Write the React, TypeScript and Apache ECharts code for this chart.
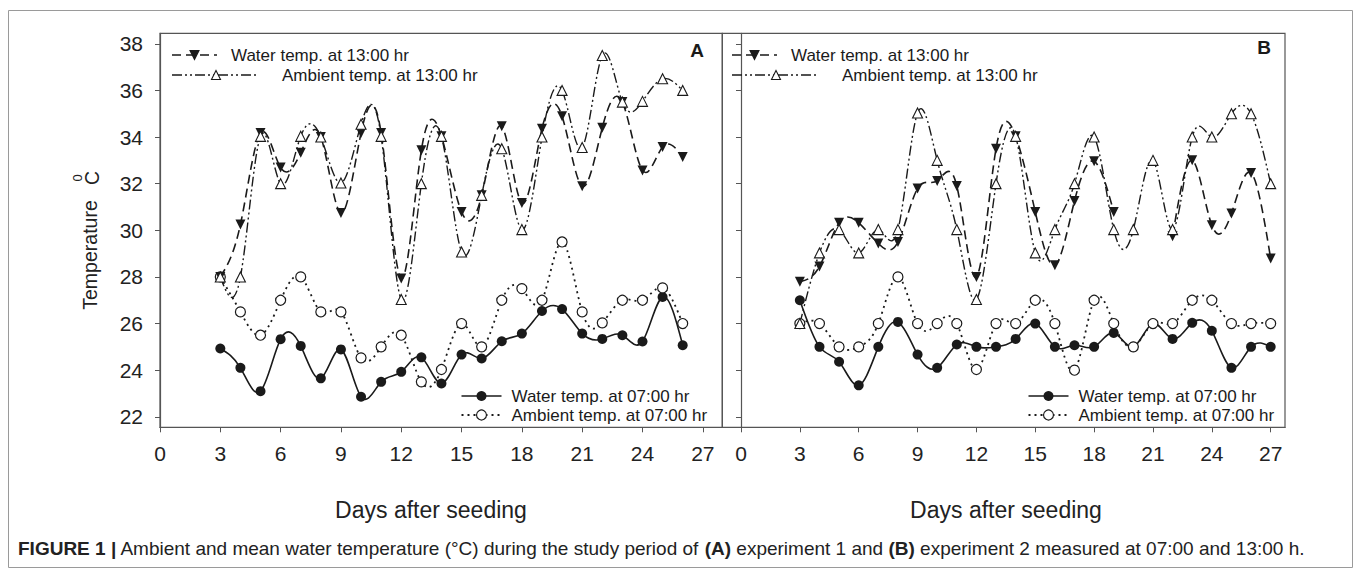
import React, { useEffect, useRef } from "react";
import * as echarts from "echarts";

// ---------- DATA ----------
const yTicks = [22, 24, 26, 28, 30, 32, 34, 36, 38];
const xTicks = [0, 3, 6, 9, 12, 15, 18, 21, 24, 27];

// Panel A (experiment 1): days 3..26
const daysA = [3, 4, 5, 6, 7, 8, 9, 10, 11, 12, 13, 14, 15, 16, 17, 18, 19, 20, 21, 22, 23, 24, 25, 26];
const waterAm_A = [24.93, 24.1, 23.1, 25.33, 25.04, 23.65, 24.89, 22.86, 23.5, 23.93, 24.55, 23.43, 24.67, 24.5, 25.24, 25.57, 26.54, 26.62, 25.57, 25.34, 25.5, 25.23, 27.14, 25.07];
const ambAm_A = [28.0, 26.5, 25.5, 27.0, 28.0, 26.5, 26.5, 24.53, 25.0, 25.5, 23.5, 24.03, 26.0, 25.0, 27.0, 27.5, 27.0, 29.5, 26.5, 26.03, 27.0, 27.0, 27.53, 26.0];
const waterPm_A = [28.0, 30.25, 34.17, 32.69, 33.33, 34.0, 30.74, 34.17, 34.17, 27.93, 33.43, 34.03, 30.79, 31.5, 34.46, 31.17, 34.36, 34.89, 31.89, 34.4, 35.5, 32.57, 33.57, 33.14];
const ambPm_A = [28.0, 28.0, 34.03, 32.0, 34.03, 34.0, 32.03, 34.55, 34.03, 27.03, 32.0, 34.03, 29.07, 31.5, 33.5, 30.03, 34.0, 36.0, 33.55, 37.5, 35.5, 35.53, 36.5, 36.0];

// Panel B (experiment 2): days 3..27 (null = not recorded)
const daysB = [3, 4, 5, 6, 7, 8, 9, 10, 11, 12, 13, 14, 15, 16, 17, 18, 19, 20, 21, 22, 23, 24, 25, 26, 27];
const waterAm_B = [27.0, 25.0, 24.36, 23.35, 25.0, 26.07, 24.67, 24.1, 25.1, 25.0, 25.0, 25.34, 26.0, 25.0, 25.07, 25.0, 25.6, 25.0, 26.0, 25.34, 26.03, 25.69, 24.1, 25.0, 25.0];
const ambAm_B = [26.0, 26.0, 25.0, 25.0, 26.0, 28.0, 26.0, 26.0, 26.0, 24.03, 26.0, 26.0, 27.0, 26.0, 24.0, 27.0, 26.0, 25.0, 26.0, 26.0, 27.0, 27.0, 26.0, 26.0, 26.0];
const waterPm_B = [27.79, 28.45, 30.32, 30.32, 29.43, 29.5, 31.79, 32.12, 31.9, 28.0, 33.5, 34.03, 30.79, 28.5, 31.26, 32.96, 30.79, null, null, 29.75, 33.0, 30.22, 30.72, 32.46, 28.79];
const ambPm_B = [26.0, 29.03, 30.03, 29.03, 30.03, 30.03, 35.03, 33.0, 30.03, 27.03, 32.0, 34.03, 29.03, 30.03, 32.0, 34.0, 30.03, 30.03, 33.0, 30.03, 34.0, 34.0, 35.0, 35.0, 32.0];

const legendPm = ["Water temp. at 13:00 hr", "Ambient temp. at 13:00 hr"];
const legendAm = ["Water temp. at 07:00 hr", "Ambient temp. at 07:00 hr"];

// ---------- STYLE ----------
const INK = "#1a1a1a";
const AXIS = "#555";
const FONT = "Arial, 'Liberation Sans', Helvetica, sans-serif";
const DASH_WATER = [9, 5];
const DASH_AMB = [10, 3, 2, 3, 2, 3];
const DOT = [2, 4];

type Pt = [number, number];

// natural cubic spline through runs of points -> bezier segments (data space)
function splineRuns(xs: number[], ys: (number | null)[]): Pt[][][] {
  const runs: Pt[][] = [];
  let cur: Pt[] = [];
  xs.forEach((x, i) => {
    const y = ys[i];
    if (y == null) {
      if (cur.length) runs.push(cur);
      cur = [];
    } else cur.push([x, y]);
  });
  if (cur.length) runs.push(cur);
  return runs.map((run) => {
    const n = run.length;
    if (n < 2) return [];
    const X = run.map((p) => p[0]);
    const Y = run.map((p) => p[1]);
    const h: number[] = [];
    for (let i = 0; i < n - 1; i++) h.push(X[i + 1] - X[i]);
    const M = new Array(n).fill(0);
    if (n > 2) {
      const m = n - 2;
      const a: number[] = [], b: number[] = [], c: number[] = [], d: number[] = [];
      for (let k = 0; k < m; k++) {
        const i = k + 1;
        a.push(h[i - 1]);
        b.push(2 * (h[i - 1] + h[i]));
        c.push(h[i]);
        d.push(6 * ((Y[i + 1] - Y[i]) / h[i] - (Y[i] - Y[i - 1]) / h[i - 1]));
      }
      for (let k = 1; k < m; k++) {
        const w = a[k] / b[k - 1];
        b[k] -= w * c[k - 1];
        d[k] -= w * d[k - 1];
      }
      const sol = new Array(m).fill(0);
      sol[m - 1] = d[m - 1] / b[m - 1];
      for (let k = m - 2; k >= 0; k--) sol[k] = (d[k] - c[k] * sol[k + 1]) / b[k];
      for (let k = 0; k < m; k++) M[k + 1] = sol[k];
    }
    const segs: Pt[][] = [];
    for (let i = 0; i < n - 1; i++) {
      const hi = h[i];
      const s = (Y[i + 1] - Y[i]) / hi;
      const d0 = s - (hi * (2 * M[i] + M[i + 1])) / 6;
      const d1 = s + (hi * (M[i] + 2 * M[i + 1])) / 6;
      segs.push([
        [X[i], Y[i]],
        [X[i] + hi / 3, Y[i] + (d0 * hi) / 3],
        [X[i + 1] - hi / 3, Y[i + 1] - (d1 * hi) / 3],
        [X[i + 1], Y[i + 1]],
      ]);
    }
    return segs;
  });
}

function curveSeries(idx: number, days: number[], vals: (number | null)[], lineStyle: any, z: number) {
  const runs = splineRuns(days, vals);
  return {
    type: "custom",
    xAxisIndex: idx,
    yAxisIndex: idx,
    silent: true,
    clip: false,
    z,
    data: days.map((d, i) => [d, vals[i] == null ? 0 : vals[i]]),
    renderItem: (params: any, api: any) => {
      if (params.dataIndex !== 0) return null;
      let pd = "";
      runs.forEach((segs) => {
        segs.forEach((seg, k) => {
          const p = seg.map((q) => api.coord(q));
          if (k === 0) pd += `M${p[0][0]} ${p[0][1]} `;
          pd += `C${p[1][0]} ${p[1][1]} ${p[2][0]} ${p[2][1]} ${p[3][0]} ${p[3][1]} `;
        });
      });
      return {
        type: "path",
        shape: { pathData: pd },
        style: { fill: "none", stroke: INK, lineWidth: lineStyle.width, lineDash: lineStyle.dash },
        silent: true,
      };
    },
  };
}

function markSeries(idx: number, days: number[], vals: (number | null)[], sym: any, z: number) {
  const data: any[] = [];
  days.forEach((d, i) => {
    if (vals[i] != null) data.push([d, vals[i]]);
  });
  return {
    type: "line",
    xAxisIndex: idx,
    yAxisIndex: idx,
    data,
    silent: true,
    showSymbol: true,
    lineStyle: { opacity: 0, width: 0 },
    z,
    ...sym,
  };
}

const SYM_WATER_AM = { symbol: "circle", symbolSize: 10, itemStyle: { color: INK } };
const SYM_AMB_AM = { symbol: "circle", symbolSize: 10, itemStyle: { color: "#fff", borderColor: INK, borderWidth: 1.2 } };
const SYM_WATER_PM = { symbol: "triangle", symbolRotate: 180, symbolSize: 10, itemStyle: { color: INK } };
const SYM_AMB_PM = { symbol: "triangle", symbolSize: 10, itemStyle: { color: "#fff", borderColor: INK, borderWidth: 1.1 } };

function panelSeries(idx: number, days: number[], wAm: (number | null)[], aAm: (number | null)[], wPm: (number | null)[], aPm: (number | null)[]) {
  return [
    curveSeries(idx, days, wAm, { width: 1.6, dash: null }, 2),
    curveSeries(idx, days, aAm, { width: 1.8, dash: DOT }, 2),
    curveSeries(idx, days, wPm, { width: 1.6, dash: DASH_WATER }, 2),
    curveSeries(idx, days, aPm, { width: 1.4, dash: DASH_AMB }, 2),
    markSeries(idx, days, wAm, SYM_WATER_AM, 5),
    markSeries(idx, days, aAm, SYM_AMB_AM, 6),
    markSeries(idx, days, wPm, SYM_WATER_PM, 7),
    markSeries(idx, days, aPm, SYM_AMB_PM, 8),
  ];
}

function legendGraphics(dx: number, dxBottom: number) {
  const g: any[] = [];
  const fs = 17;
  const t = (x: number, y: number, s: string) => ({
    type: "text", x, y, style: { text: s, font: `${fs}px ${FONT}`, fill: INK, verticalAlign: "middle", align: "left" }, z: 20,
  });
  const tri = (cx: number, cy: number, down: boolean, filled: boolean) => {
    const s = 9;
    const pts = down
      ? [[cx - s / 2, cy - s / 2], [cx + s / 2, cy - s / 2], [cx, cy + s / 2]]
      : [[cx - s / 2, cy + s / 2], [cx + s / 2, cy + s / 2], [cx, cy - s / 2]];
    return { type: "polygon", shape: { points: pts }, style: { fill: filled ? INK : "#fff", stroke: INK, lineWidth: 1.1 }, z: 21 };
  };
  const y1 = 55, y2 = 75;
  g.push({ type: "line", shape: { x1: 172 + dx, y1, x2: 217 + dx, y2: y1 }, style: { stroke: INK, lineWidth: 1.6, lineDash: DASH_WATER }, z: 20 });
  g.push(tri(194.5 + dx, y1, true, true));
  g.push(t(231 + dx, y1, legendPm[0]));
  g.push({ type: "line", shape: { x1: 172 + dx, y1: y2, x2: 256 + dx, y2 }, style: { stroke: INK, lineWidth: 1.4, lineDash: DASH_AMB }, z: 20 });
  g.push(tri(216 + dx, y2, false, false));
  g.push(t(282 + dx, y2, legendPm[1]));
  const y3 = 396, y4 = 415;
  g.push({ type: "line", shape: { x1: 461.5 + dxBottom, y1: y3, x2: 501.5 + dxBottom, y2: y3 }, style: { stroke: INK, lineWidth: 1.6 }, z: 20 });
  g.push({ type: "circle", shape: { cx: 481.5 + dxBottom, cy: y3, r: 5 }, style: { fill: INK }, z: 21 });
  g.push(t(511.5 + dxBottom, y3, legendAm[0]));
  g.push({ type: "line", shape: { x1: 461.5 + dxBottom, y1: y4, x2: 501.5 + dxBottom, y2: y4 }, style: { stroke: INK, lineWidth: 1.8, lineDash: DOT }, z: 20 });
  g.push({ type: "circle", shape: { cx: 481.5 + dxBottom, cy: y4, r: 5 }, style: { fill: "#fff", stroke: INK, lineWidth: 1.2 }, z: 21 });
  g.push(t(511.5 + dxBottom, y4, legendAm[1]));
  return g;
}

export default function App() {
  const ref = useRef<HTMLDivElement>(null);
  useEffect(() => {
    if (!ref.current) return;
    const chart = echarts.init(ref.current, null, { renderer: "svg" });

    const yBase = (idx: number) => ({
      type: "value",
      gridIndex: idx,
      min: 21.55,
      max: 38.45,
      axisLine: { show: true, lineStyle: { color: AXIS, width: 1.2 } },
      axisTick: { show: true, inside: false, length: 5, customValues: yTicks, lineStyle: { color: AXIS } },
      axisLabel: { show: idx === 0, customValues: yTicks, margin: 17, fontSize: 21, color: "#222", fontFamily: FONT },
      splitLine: { show: false },
    });
    const xBase = (idx: number, min: number, max: number) => ({
      type: "value",
      gridIndex: idx,
      min,
      max,
      axisLine: { show: true, onZero: false, lineStyle: { color: AXIS, width: 1.2 } },
      axisTick: { show: true, inside: false, length: 5, customValues: xTicks, lineStyle: { color: AXIS } },
      axisLabel: { show: true, customValues: xTicks, margin: 16, fontSize: 21, color: "#222", fontFamily: FONT },
      splitLine: { show: false },
    });

    const graphics: any[] = [
      { type: "rect", shape: { x: 8.5, y: 10.5, width: 1344, height: 557 }, style: { fill: "none", stroke: "#9a9a9a", lineWidth: 1 }, z: 0, silent: true },
      { type: "text", x: 697, y: 50, style: { text: "A", font: `bold 19px ${FONT}`, fill: INK, align: "center", verticalAlign: "middle" }, z: 20 },
      { type: "text", x: 1264, y: 47, style: { text: "B", font: `bold 19px ${FONT}`, fill: INK, align: "center", verticalAlign: "middle" }, z: 20 },
      { type: "text", x: 431, y: 510, style: { text: "Days after seeding", font: `23px ${FONT}`, fill: "#222", align: "center", verticalAlign: "middle" }, z: 20 },
      { type: "text", x: 1006, y: 510, style: { text: "Days after seeding", font: `23px ${FONT}`, fill: "#222", align: "center", verticalAlign: "middle" }, z: 20 },
      { type: "text", x: 90, y: 255, rotation: Math.PI / 2, style: { text: "Temperature", font: `19.5px ${FONT}`, fill: "#222", align: "center", verticalAlign: "middle" }, z: 20 },
      { type: "text", x: 92, y: 178, rotation: Math.PI / 2, style: { text: "C", font: `19.5px ${FONT}`, fill: "#222", align: "center", verticalAlign: "middle" }, z: 20 },
      { type: "text", x: 77.5, y: 178, rotation: Math.PI / 2, style: { text: "0", font: `13px ${FONT}`, fill: "#222", align: "center", verticalAlign: "middle" }, z: 20 },
      {
        type: "text", x: 18, y: 548,
        style: {
          text: "{b|FIGURE 1 |} Ambient and mean water temperature (°C) during the study period of {b|(A)} experiment 1 and {b|(B)} experiment 2 measured at 07:00 and 13:00 h.",
          font: `19px ${FONT}`, fill: "#222", verticalAlign: "middle", align: "left",
          rich: { b: { fontWeight: "bold", fontSize: 19, fontFamily: FONT, fill: "#222" } },
        }, z: 20,
      },
      ...legendGraphics(0, 0),
      ...legendGraphics(560, 567),
    ];

    chart.setOption({
      animation: false,
      backgroundColor: "#fff",
      textStyle: { fontFamily: FONT },
      grid: [
        { left: 160, top: 33.3, width: 562.3, height: 394, show: true, borderColor: AXIS, borderWidth: 1.2, backgroundColor: "transparent" },
        { left: 722.3, top: 33.3, width: 562.7, height: 394, show: true, borderColor: AXIS, borderWidth: 1.2, backgroundColor: "transparent" },
      ],
      xAxis: [xBase(0, 0, 27.97), xBase(1, -0.953, 27.73)],
      yAxis: [yBase(0), yBase(1)],
      series: [
        ...panelSeries(0, daysA, waterAm_A, ambAm_A, waterPm_A, ambPm_A),
        ...panelSeries(1, daysB, waterAm_B, ambAm_B, waterPm_B, ambPm_B),
      ],
      graphic: graphics,
    });
    return () => chart.dispose();
  }, []);
  return <div ref={ref} style={{ position: "fixed", left: 0, top: 0, width: 1357, height: 577, background: "#fff" }} />;
}
